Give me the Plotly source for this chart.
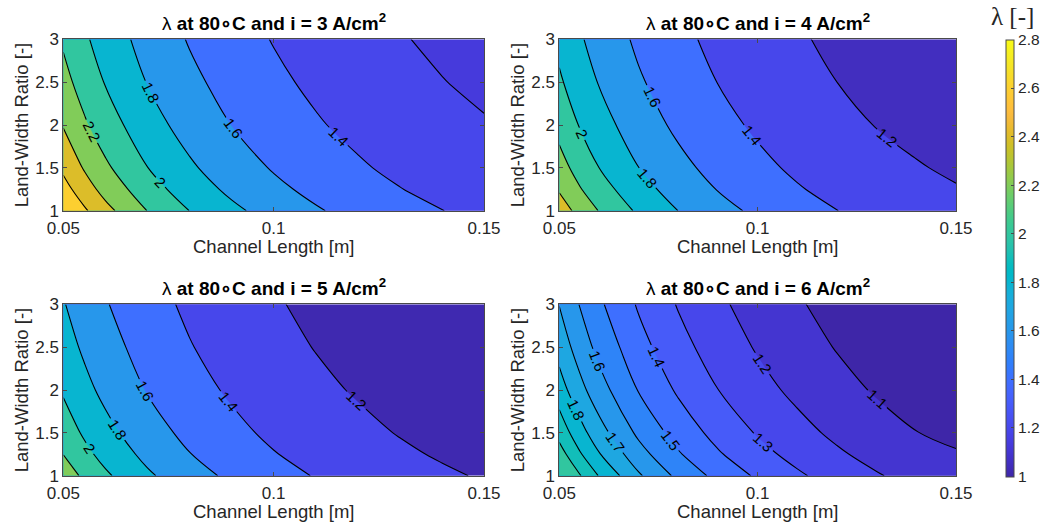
import plotly.graph_objects as go

# ---------------- data ----------------
channel_length = [0.05, 0.055, 0.06, 0.07, 0.08, 0.09, 0.10, 0.11, 0.12, 0.13, 0.14, 0.15]
land_width_ratio = [1.0, 1.25, 1.5, 2.0, 2.5, 3.0]

lambda_i3 = [
    [2.790, 2.628, 2.460, 2.196, 1.998, 1.843, 1.720, 1.619, 1.535, 1.464, 1.403, 1.350],
    [2.677, 2.489, 2.333, 2.086, 1.902, 1.758, 1.644, 1.550, 1.471, 1.405, 1.348, 1.303],
    [2.560, 2.383, 2.235, 2.003, 1.829, 1.693, 1.585, 1.496, 1.422, 1.360, 1.308, 1.265],
    [2.388, 2.227, 2.092, 1.880, 1.722, 1.598, 1.499, 1.418, 1.351, 1.296, 1.250, 1.212],
    [2.266, 2.115, 1.990, 1.793, 1.645, 1.530, 1.438, 1.363, 1.300, 1.248, 1.205, 1.168],
    [2.172, 2.030, 1.912, 1.726, 1.586, 1.478, 1.391, 1.320, 1.261, 1.211, 1.170, 1.135],
]
lambda_i4 = [
    [2.510, 2.337, 2.193, 1.967, 1.798, 1.666, 1.560, 1.474, 1.402, 1.341, 1.289, 1.243],
    [2.379, 2.218, 2.084, 1.874, 1.716, 1.593, 1.495, 1.414, 1.347, 1.292, 1.248, 1.210],
    [2.279, 2.127, 2.001, 1.802, 1.653, 1.537, 1.444, 1.369, 1.305, 1.255, 1.212, 1.175],
    [2.132, 1.994, 1.878, 1.697, 1.561, 1.456, 1.371, 1.302, 1.244, 1.195, 1.154, 1.120],
    [2.027, 1.898, 1.791, 1.622, 1.496, 1.397, 1.319, 1.254, 1.200, 1.155, 1.116, 1.084],
    [1.947, 1.825, 1.724, 1.565, 1.445, 1.353, 1.278, 1.218, 1.167, 1.124, 1.087, 1.056],
]
lambda_i5 = [
    [2.314, 2.160, 2.032, 1.830, 1.679, 1.561, 1.467, 1.390, 1.326, 1.272, 1.225, 1.185],
    [2.197, 2.054, 1.934, 1.747, 1.606, 1.496, 1.409, 1.337, 1.277, 1.227, 1.183, 1.146],
    [2.108, 1.973, 1.860, 1.683, 1.550, 1.447, 1.364, 1.296, 1.240, 1.192, 1.151, 1.116],
    [1.977, 1.854, 1.751, 1.589, 1.468, 1.374, 1.299, 1.237, 1.185, 1.142, 1.105, 1.072],
    [1.884, 1.769, 1.673, 1.523, 1.410, 1.322, 1.252, 1.194, 1.147, 1.106, 1.071, 1.041],
    [1.812, 1.704, 1.613, 1.471, 1.365, 1.282, 1.216, 1.162, 1.117, 1.078, 1.046, 1.017],
]
lambda_i6 = [
    [2.150, 2.011, 1.895, 1.713, 1.576, 1.470, 1.385, 1.315, 1.257, 1.208, 1.166, 1.130],
    [2.045, 1.915, 1.807, 1.638, 1.510, 1.411, 1.332, 1.268, 1.214, 1.168, 1.131, 1.108],
    [1.964, 1.842, 1.740, 1.580, 1.460, 1.367, 1.292, 1.231, 1.180, 1.137, 1.102, 1.078],
    [1.846, 1.734, 1.641, 1.495, 1.386, 1.301, 1.233, 1.177, 1.131, 1.091, 1.058, 1.032],
    [1.761, 1.657, 1.571, 1.435, 1.333, 1.254, 1.191, 1.139, 1.095, 1.059, 1.028, 1.003],
    [1.697, 1.599, 1.517, 1.389, 1.293, 1.218, 1.158, 1.109, 1.069, 1.034, 1.005, 0.979],
]

current_density = [3, 4, 5, 6]
panels = [lambda_i3, lambda_i4, lambda_i5, lambda_i6]
# contour levels: (first level, step, last level)
panel_levels = [(1.2, 0.2, 2.6), (1.2, 0.2, 2.4), (1.2, 0.2, 2.2), (1.1, 0.1, 2.0)]

x_ticks = [0.05, 0.1, 0.15]
x_ticklabels = ["0.05", "0.1", "0.15"]
y_ticks = [1, 1.5, 2, 2.5, 3]
y_ticklabels = ["1", "1.5", "2", "2.5", "3"]
cbar_ticks = [1, 1.2, 1.4, 1.6, 1.8, 2, 2.2, 2.4, 2.6, 2.8]
cbar_ticklabels = ["1", "1.2", "1.4", "1.6", "1.8", "2", "2.2", "2.4", "2.6", "2.8"]
CMIN, CMAX = 1.0, 2.8

# ---------------- style ----------------
PARULA = [
    (0.2422, 0.1504, 0.6603), (0.2504, 0.1650, 0.7076), (0.2578, 0.1818, 0.7511), (0.2647, 0.1978, 0.7952),
    (0.2706, 0.2147, 0.8364), (0.2751, 0.2342, 0.8710), (0.2783, 0.2559, 0.8991), (0.2803, 0.2782, 0.9221),
    (0.2813, 0.3006, 0.9414), (0.2810, 0.3228, 0.9579), (0.2795, 0.3447, 0.9717), (0.2760, 0.3667, 0.9829),
    (0.2699, 0.3892, 0.9906), (0.2602, 0.4123, 0.9952), (0.2440, 0.4358, 0.9988), (0.2206, 0.4603, 0.9973),
    (0.1963, 0.4847, 0.9892), (0.1834, 0.5074, 0.9798), (0.1786, 0.5289, 0.9682), (0.1764, 0.5499, 0.9520),
    (0.1687, 0.5703, 0.9359), (0.1540, 0.5902, 0.9218), (0.1460, 0.6091, 0.9079), (0.1380, 0.6276, 0.8973),
    (0.1248, 0.6459, 0.8883), (0.1113, 0.6635, 0.8763), (0.0952, 0.6798, 0.8598), (0.0689, 0.6948, 0.8394),
    (0.0297, 0.7082, 0.8163), (0.0036, 0.7203, 0.7917), (0.0067, 0.7312, 0.7660), (0.0433, 0.7411, 0.7394),
    (0.0964, 0.7500, 0.7120), (0.1408, 0.7584, 0.6842), (0.1717, 0.7670, 0.6554), (0.1938, 0.7758, 0.6251),
    (0.2161, 0.7843, 0.5923), (0.2470, 0.7918, 0.5567), (0.2906, 0.7973, 0.5188), (0.3406, 0.8008, 0.4789),
    (0.3909, 0.8029, 0.4354), (0.4456, 0.8024, 0.3909), (0.5044, 0.7993, 0.3480), (0.5616, 0.7942, 0.3045),
    (0.6174, 0.7876, 0.2612), (0.6720, 0.7793, 0.2227), (0.7242, 0.7698, 0.1910), (0.7738, 0.7598, 0.1646),
    (0.8203, 0.7498, 0.1535), (0.8634, 0.7406, 0.1596), (0.9035, 0.7330, 0.1774), (0.9393, 0.7288, 0.2100),
    (0.9728, 0.7298, 0.2394), (0.9956, 0.7434, 0.2371), (0.9970, 0.7659, 0.2199), (0.9952, 0.7893, 0.2028),
    (0.9892, 0.8136, 0.1885), (0.9786, 0.8386, 0.1766), (0.9676, 0.8639, 0.1643), (0.9610, 0.8890, 0.1537),
    (0.9597, 0.9135, 0.1423), (0.9628, 0.9373, 0.1265), (0.9691, 0.9606, 0.1064), (0.9769, 0.9839, 0.0805),
]


def rgb(c):
    return "rgb(%d,%d,%d)" % tuple(int(round(255 * v)) for v in c)


def parula_at(value):
    t = (value - CMIN) / (CMAX - CMIN)
    t = min(max(t, 0.0), 1.0)
    f = t * (len(PARULA) - 1)
    i = min(int(f), len(PARULA) - 2)
    w = f - i
    a, b = PARULA[i], PARULA[i + 1]
    return rgb(tuple(a[k] + (b[k] - a[k]) * w for k in range(3)))


PARULA_SCALE = [[i / (len(PARULA) - 1), rgb(c)] for i, c in enumerate(PARULA)]


def band_scale(start, step, end, low_value):
    """Step colour scale: each band is filled with the colormap colour of its lower level
    (MATLAB contourf), the region under the first level with the colour of the data minimum."""
    n = int(round((end - start) / step)) + 1
    levels = [start + k * step for k in range(n)]
    cols = [parula_at(low_value)] + [parula_at(L) for L in levels]
    scale = [[0.0, cols[0]]]
    for j in range(1, n + 1):
        t = j / (n + 1)
        scale.append([t, cols[j - 1]])
        scale.append([t, cols[j]])
    scale.append([1.0, cols[-1]])
    zmin = start - step
    zmax = end + step
    return scale, zmin, zmax


W, H = 1054, 532
FONT = "Liberation Sans, Arial, Helvetica, sans-serif"
TXT = "#262626"
AX = "#4a4a4a"

# panel boxes in pixels: (left, right, top, bottom)
boxes = [(63.3, 484.0, 39.3, 210.7), (559.3, 956.0, 39.3, 210.7),
         (63.3, 484.0, 304.3, 475.7), (559.3, 956.0, 304.3, 475.7)]

fig = go.Figure()
layout_axes = {}
annotations = []

for p, (z, cd, (st, sz, en), box) in enumerate(zip(panels, current_density, panel_levels, boxes)):
    idx = "" if p == 0 else str(p + 1)
    low = min(min(r) for r in z)
    scale, zmin, zmax = band_scale(st, sz, en, low)
    fig.add_trace(go.Contour(
        x=channel_length, y=land_width_ratio, z=z,
        xaxis="x" + idx, yaxis="y" + idx,
        colorscale=scale, zauto=False, zmin=zmin, zmax=zmax, showscale=False,
        contours=dict(start=st, end=en, size=sz, coloring="fill", showlabels=True,
                      labelfont=dict(family=FONT, size=15, color="black")),
        line=dict(color="black", width=1.1, smoothing=1.0),
        hoverinfo="skip",
    ))
    l, r, t, b = box
    common = dict(showline=True, linecolor=AX, linewidth=1, mirror="ticks", ticks="inside",
                  ticklen=4, tickcolor=AX, tickwidth=1, showgrid=False, zeroline=False,
                  tickfont=dict(family=FONT, size=17, color=TXT))
    layout_axes["xaxis" + idx] = dict(domain=[l / W, r / W], anchor="y" + idx, range=[0.05, 0.15],
                                      tickvals=x_ticks, ticktext=x_ticklabels, ticklabelstandoff=2,
                                      **common)
    layout_axes["yaxis" + idx] = dict(domain=[1 - b / H, 1 - t / H], anchor="x" + idx, range=[1, 3],
                                      tickvals=y_ticks, ticktext=y_ticklabels, **common)
    cx = (l + r) / 2
    # title
    annotations.append(dict(
        x=cx / W, y=1 - (t - 17) / H, xref="paper", yref="paper", xanchor="center", yanchor="middle",
        text="λ <b>at 80∘C and i = %d A/cm<sup>2</sup></b>" % cd, showarrow=False,
        font=dict(family=FONT, size=19, color="black")))
    # x label
    annotations.append(dict(
        x=cx / W, y=1 - (b + 35.5) / H, xref="paper", yref="paper", xanchor="center", yanchor="middle",
        text="Channel Length [m]", showarrow=False, font=dict(family=FONT, size=18.5, color=TXT)))
    # y label
    annotations.append(dict(
        x=(l - 42) / W, y=1 - ((t + b) / 2) / H, xref="paper", yref="paper", xanchor="center",
        yanchor="middle", textangle=-90, text="Land-Width Ratio [-]", showarrow=False,
        font=dict(family=FONT, size=18.5, color=TXT)))

# shared colour bar
fig.add_trace(go.Scatter(
    x=[None], y=[None], mode="markers", showlegend=False, hoverinfo="skip",
    marker=dict(color=[CMIN], colorscale=PARULA_SCALE, cmin=CMIN, cmax=CMAX, showscale=True,
                colorbar=dict(x=1005.5 / W, xanchor="left", y=1 - 39.5 / H, yanchor="top",
                              len=437, lenmode="pixels", thickness=8, thicknessmode="pixels",
                              xpad=0, ypad=0, outlinecolor=AX, outlinewidth=1,
                              ticks="inside", ticklen=3, tickcolor=AX,
                              tickvals=cbar_ticks, ticktext=cbar_ticklabels,
                              tickfont=dict(family=FONT, size=15.5, color=TXT))),
))
annotations.append(dict(x=1012 / W, y=1 - 17 / H, xref="paper", yref="paper", xanchor="center",
                        yanchor="middle", text="λ [-]", showarrow=False,
                        font=dict(family="Liberation Serif, Times New Roman, serif", size=25, color=TXT)))

fig.update_layout(
    width=W, height=H, margin=dict(l=0, r=0, t=0, b=0, autoexpand=False),
    paper_bgcolor="white", plot_bgcolor="white", showlegend=False,
    annotations=annotations, **layout_axes,
)

fig.write_html("out.html", config={"displayModeBar": False},
               post_script="document.body.style.margin='0';document.body.style.overflow='hidden';")
